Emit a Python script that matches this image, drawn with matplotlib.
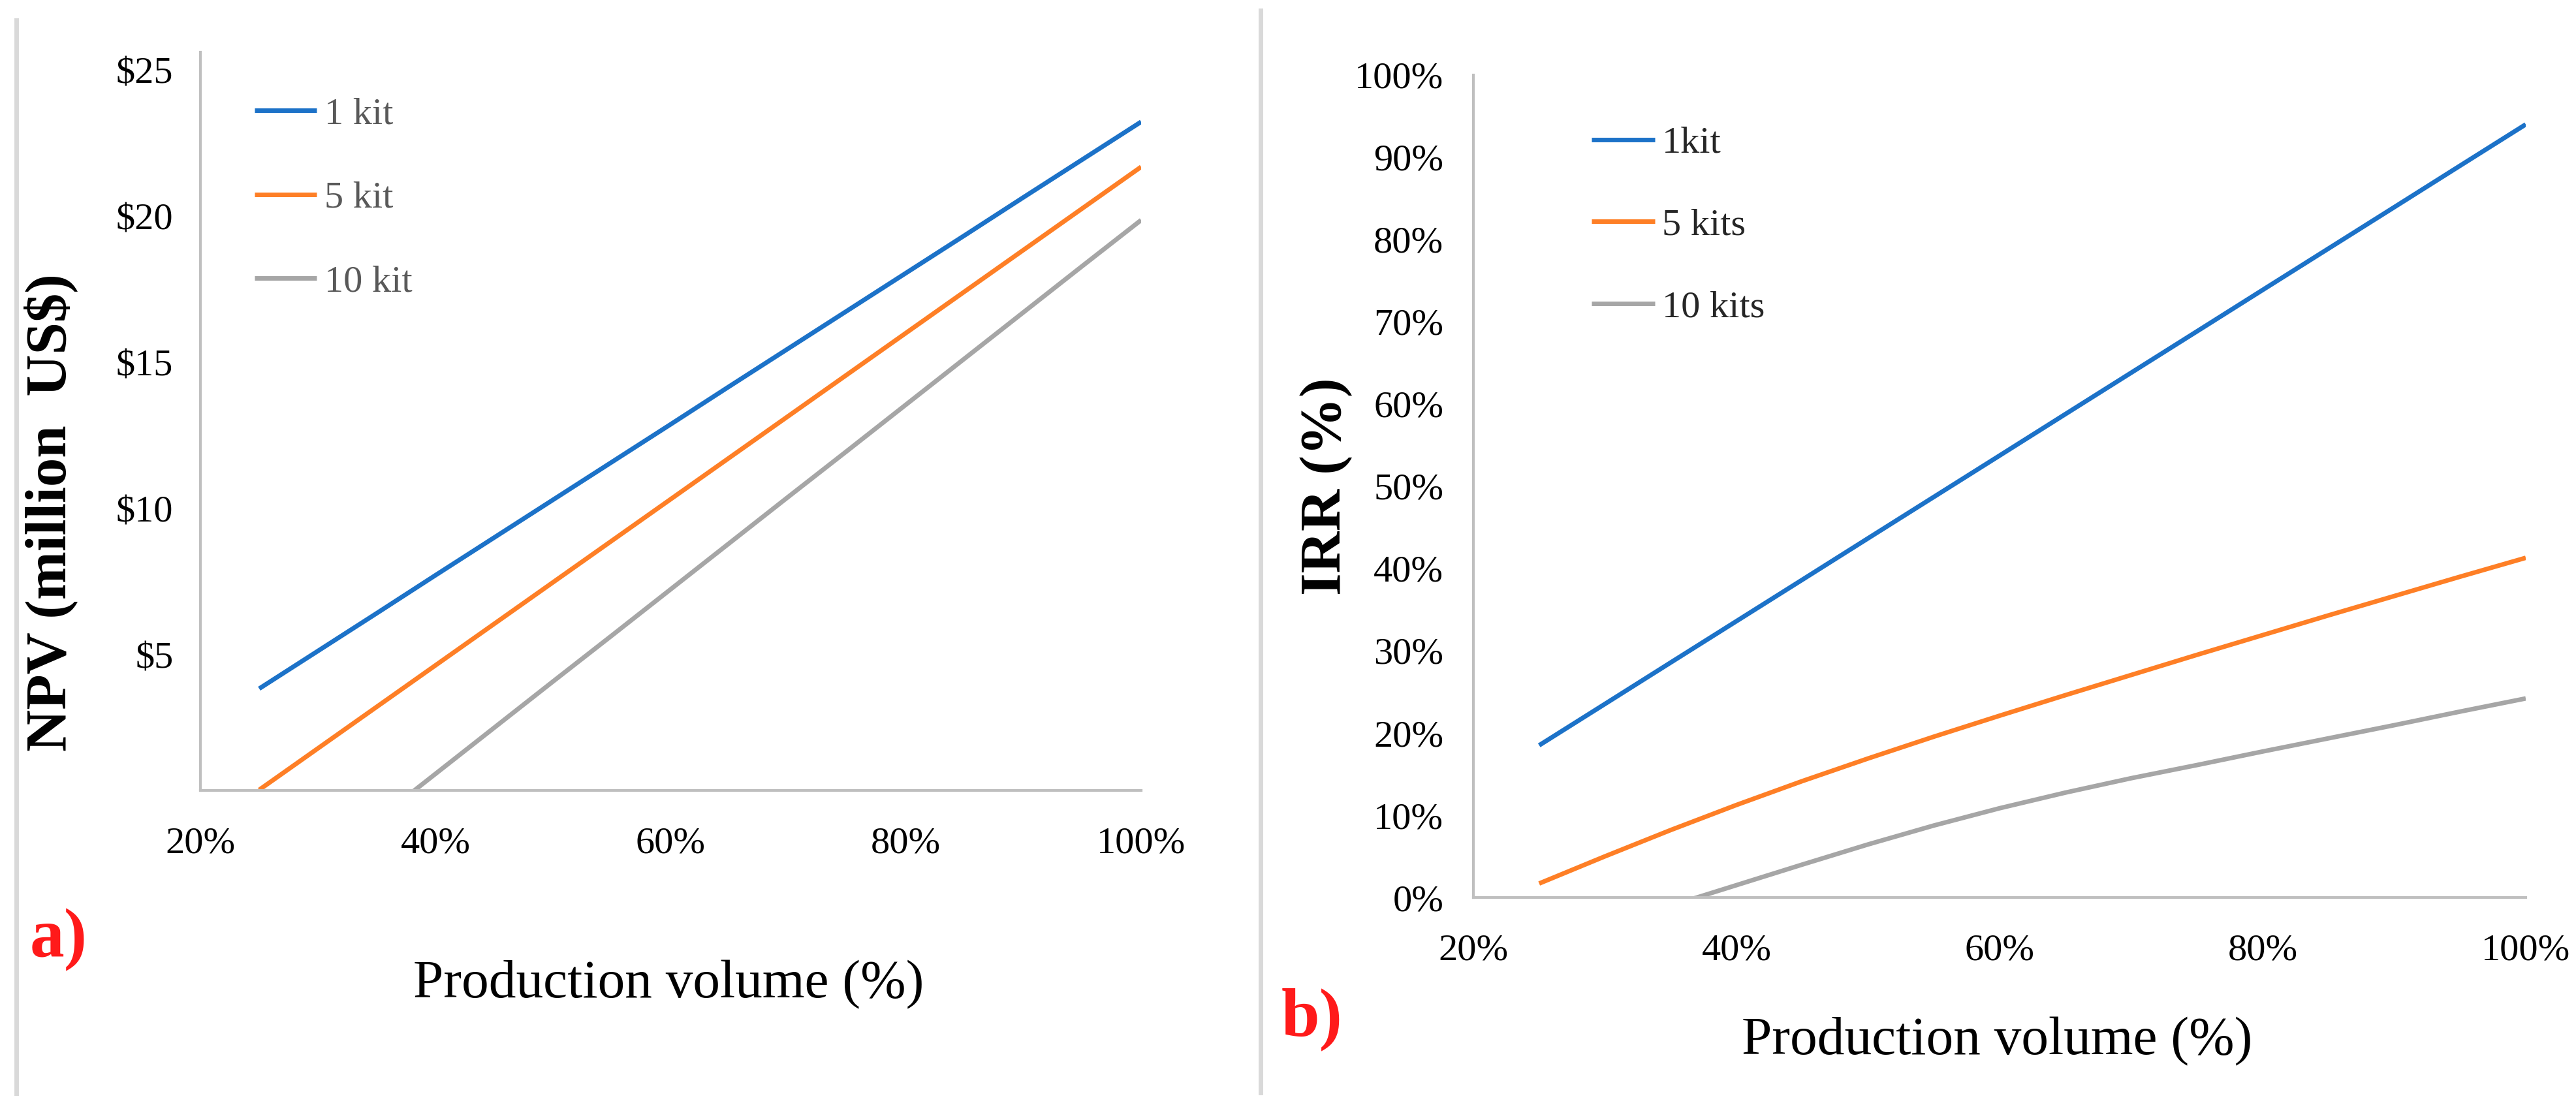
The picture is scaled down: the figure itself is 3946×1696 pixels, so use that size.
#!/usr/bin/env python3
"""NPV and IRR vs production volume for 1, 5 and 10 kits (two-panel figure)."""

import numpy as np
import matplotlib
matplotlib.use("Agg")
import matplotlib.pyplot as plt  # noqa: E402
from matplotlib.lines import Line2D  # noqa: E402

# production volume [%]
volume = [25, 30, 35, 40, 45, 50, 55, 60, 65, 70, 75, 80, 85, 90, 95, 100]

# a) NPV [million US$]
npv_1kit = [3.86, 5.15, 6.44, 7.74, 9.03, 10.32, 11.61, 12.90, 14.20, 15.49,
            16.78, 18.07, 19.36, 20.66, 21.95, 23.24]
npv_5kit = [0.40, 1.82, 3.24, 4.66, 6.08, 7.50, 8.92, 10.34, 11.76, 13.18,
            14.60, 16.02, 17.44, 18.86, 20.28, 21.70]
npv_10kit = [np.nan, np.nan, -0.63, 0.95, 2.53, 4.11, 5.68, 7.26, 8.84, 10.42,
             11.99, 13.57, 15.15, 16.73, 18.31, 19.88]

# b) IRR [%]
irr_1kit = [18.50, 23.53, 28.57, 33.60, 38.63, 43.67, 48.70, 53.73, 58.77,
            63.80, 68.83, 73.87, 78.90, 83.93, 88.97, 94.00]
irr_5kits = [1.7, 5.0, 8.2, 11.25, 14.15, 16.9, 19.55, 22.1, 24.6, 27.05,
             29.5, 31.9, 34.3, 36.65, 39.0, 41.3]
irr_10kits = [np.nan, np.nan, -1.0, 1.5, 4.0, 6.45, 8.75, 10.85, 12.75, 14.5,
              16.1, 17.75, 19.35, 20.95, 22.6, 24.2]

x_ticks = [20, 40, 60, 80, 100]
x_ticklabels = ["20%", "40%", "60%", "80%", "100%"]
npv_ticks = [5, 10, 15, 20, 25]
npv_ticklabels = ["\\$5", "\\$10", "\\$15", "\\$20", "\\$25"]
irr_ticks = [0, 10, 20, 30, 40, 50, 60, 70, 80, 90, 100]
irr_ticklabels = ["0%", "10%", "20%", "30%", "40%", "50%", "60%", "70%",
                  "80%", "90%", "100%"]

labels_a = ["1 kit", "5 kit", "10 kit"]
labels_b = ["1kit", "5 kits", "10 kits"]
colors = ["#1C72C8", "#FE7F26", "#A6A6A6"]

W, H = 3946, 1696
SERIF = ["Liberation Serif", "DejaVu Serif"]
plt.rcParams["font.family"] = SERIF

fig = plt.figure(figsize=(W / 100, H / 100), dpi=100)


def box(x0, y0, x1, y1):
    # pixel box (top-left origin) -> figure fraction rect
    return [x0 / W, 1 - y1 / H, (x1 - x0) / W, (y1 - y0) / H]


def style(ax, ypad):
    for s in ("top", "right"):
        ax.spines[s].set_visible(False)
    for s in ("left", "bottom"):
        ax.spines[s].set_color("#BFBFBF")
        ax.spines[s].set_linewidth(3)
    ax.tick_params(axis="both", length=0, labelsize=42, colors="black")
    ax.tick_params(axis="x", pad=40)
    ax.tick_params(axis="y", pad=ypad)
    ax.set_xlim(20, 100)
    ax.set_xticks(x_ticks)
    ax.set_xticklabels(x_ticklabels)


# ---- a) NPV
ax1 = fig.add_axes(box(307, 80, 1748, 1211))
for vals, lab, c in zip([npv_1kit, npv_5kit, npv_10kit], labels_a, colors):
    ax1.plot(volume, vals, color=c, lw=5, label=lab, solid_capstyle="butt")
style(ax1, 30)
ax1.set_ylim(0.38, 25.62)
ax1.set_yticks(npv_ticks)
ax1.set_yticklabels(npv_ticklabels)
ax1.set_ylabel("NPV (million  US\\$)", fontsize=64, fontweight="bold", va="center")
ax1.yaxis.set_label_coords(-0.159, 0.377)
ax1.set_xlabel("Production volume (%)", fontsize=60, va="center")
ax1.xaxis.set_label_coords(0.498, -0.263)
leg1 = ax1.legend(loc="upper left", bbox_to_anchor=(0.0576, 0.9395), frameon=False,
                  fontsize=42, handlelength=1.62, handletextpad=0.22,
                  labelspacing=1.3, borderpad=0, borderaxespad=0)
for t in leg1.get_texts():
    t.set_color("#595959")

# ---- b) IRR
ax2 = fig.add_axes(box(2257, 115, 3869, 1375))
for vals, lab, c in zip([irr_1kit, irr_5kits, irr_10kits], labels_b, colors):
    ax2.plot(volume, vals, color=c, lw=5, label=lab, solid_capstyle="butt")
style(ax2, 33)
ax2.set_ylim(0, 100)
ax2.set_yticks(irr_ticks)
ax2.set_yticklabels(irr_ticklabels)
ax2.set_ylabel("IRR (%)", fontsize=64, fontweight="bold", va="center")
ax2.yaxis.set_label_coords(-0.1396, 0.5)
ax2.set_xlabel("Production volume (%)", fontsize=60, va="center")
ax2.xaxis.set_label_coords(0.4975, -0.175)
leg2 = ax2.legend(loc="upper left", bbox_to_anchor=(0.1123, 0.9380), frameon=False,
                  fontsize=42, handlelength=1.67, handletextpad=0.18,
                  labelspacing=1.25, borderpad=0, borderaxespad=0)
for t in leg2.get_texts():
    t.set_color("#262626")

# panel tags
fig.text(90 / W, 1 - 1440 / H, "a)", color="#FF1A1A", fontsize=76,
         fontweight="bold", ha="center", va="center")
fig.text(2010 / W, 1 - 1562 / H, "b)", color="#FF1A1A", fontsize=76,
         fontweight="bold", ha="center", va="center")

# light frame lines around panel a
for x, y0, y1 in [(25, 31, 1675), (1931, 16, 1674)]:
    fig.add_artist(Line2D([x / W, x / W], [1 - y0 / H, 1 - y1 / H],
                          transform=fig.transFigure, color="#D9D9D9", lw=5))

fig.savefig("out.png", dpi=100)
